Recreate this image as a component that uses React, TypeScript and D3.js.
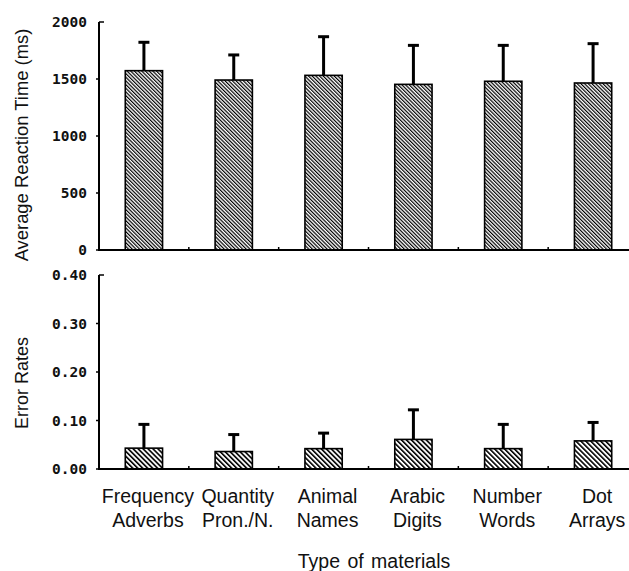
import React from "react";
import * as d3 from "d3";

const categories: string[][] = [
  ["Frequency", "Adverbs"],
  ["Quantity", "Pron./N."],
  ["Animal", "Names"],
  ["Arabic", "Digits"],
  ["Number", "Words"],
  ["Dot", "Arrays"],
];
const rtMean = [1573, 1491, 1532, 1453, 1480, 1465];
const rtSD = [249, 220, 339, 342, 315, 345];
const errMean = [0.043, 0.036, 0.042, 0.061, 0.042, 0.058];
const errSD = [0.049, 0.035, 0.032, 0.061, 0.05, 0.038];
const rtTicks = [0, 500, 1000, 1500, 2000];
const errTicks = [0, 0.1, 0.2, 0.3, 0.4];

const W = 629;
const H = 571;
const AX = 99;
const XEND = 638;
const SANS = "'Liberation Sans', Arial, sans-serif";
const MONO = "'DejaVu Sans Mono', monospace";

export default function App() {
  const idx = categories.map((_, i) => String(i));
  const x = d3
    .scaleBand<string>()
    .domain(idx)
    .range([AX, XEND])
    .paddingInner(0.585)
    .paddingOuter(0.2925);
  const step = x.step();
  const bw = x.bandwidth();

  const yTop = d3.scaleLinear().domain([0, 2000]).range([250, 22]);
  const yBot = d3.scaleLinear().domain([0, 0.4]).range([469, 275]);

  const panel = (
    y: d3.ScaleLinear<number, number>,
    means: number[],
    sds: number[],
    ticks: number[],
    fmt: (v: number) => string,
    pat: string,
    key: string
  ) => {
    const y0 = y(0);
    const yTopPx = y(ticks[ticks.length - 1]);
    return (
      <g key={key}>
        {means.map((m, i) => {
          const x0 = x(String(i))!;
          const cx = x0 + bw / 2;
          const top = y(m);
          const et = y(m + sds[i]);
          return (
            <g key={i}>
              <line x1={cx} x2={cx} y1={top} y2={et} stroke="#000" strokeWidth={3} />
              <line x1={cx - 5.5} x2={cx + 5.5} y1={et} y2={et} stroke="#000" strokeWidth={3} />
              <rect x={x0} y={top} width={bw} height={y0 - top} fill={`url(#${pat})`} stroke="#000" strokeWidth={1.6} />
            </g>
          );
        })}
        <line x1={AX} x2={AX} y1={yTopPx} y2={y0} stroke="#000" strokeWidth={2} />
        <line x1={AX - 1} x2={W} y1={y0} y2={y0} stroke="#000" strokeWidth={2} />
        {ticks.map((t) => (
          <g key={t}>
            <line
              x1={t === ticks[ticks.length - 1] ? AX : AX - 3}
              x2={t === ticks[ticks.length - 1] ? AX + 5 : AX}
              y1={y(t)}
              y2={y(t)}
              stroke="#000"
              strokeWidth={1.5}
            />
            <text
              x={87}
              y={y(t)}
              dy="0.36em"
              textAnchor="end"
              fontFamily={MONO}
              fontWeight="bold"
              fontSize={14.5}
              fill="#111"
            >
              {fmt(t)}
            </text>
          </g>
        ))}
        {idx.slice(1).map((d) => {
          const bx = x(d)! - (step - bw) / 2;
          return <line key={d} x1={bx} x2={bx} y1={y0} y2={y0 - 3} stroke="#000" strokeWidth={1.5} />;
        })}
      </g>
    );
  };

  return (
    <svg width={W} height={H} style={{ position: "absolute", left: 0, top: 0, background: "#fff" }}>
      <defs>
        <pattern id="hatchTop" patternUnits="userSpaceOnUse" width={2.6} height={2.6} patternTransform="rotate(-45)">
          <rect width={2.6} height={2.6} fill="#fff" />
          <line x1={0} y1={0} x2={0} y2={2.6} stroke="#000" strokeWidth={2.4} />
        </pattern>
        <pattern id="hatchBot" patternUnits="userSpaceOnUse" width={3.5} height={3.5} patternTransform="rotate(-45)">
          <rect width={3.5} height={3.5} fill="#fff" />
          <line x1={0} y1={0} x2={0} y2={3.5} stroke="#000" strokeWidth={3.2} />
        </pattern>
      </defs>
      <rect width={W} height={H} fill="#fff" />
      {panel(yTop, rtMean, rtSD, rtTicks, (v) => d3.format("d")(v), "hatchTop", "top")}
      {panel(yBot, errMean, errSD, errTicks, (v) => d3.format(".2f")(v), "hatchBot", "bot")}

      <text
        transform={`translate(28,145) rotate(-90)`}
        textAnchor="middle"
        fontFamily={SANS}
        fontSize={18.4}
        fill="#111"
      >
        Average Reaction Time (ms)
      </text>
      <text
        transform={`translate(28,383) rotate(-90)`}
        textAnchor="middle"
        fontFamily={SANS}
        fontSize={18}
        fill="#111"
      >
        Error Rates
      </text>

      {categories.map((lines, i) => {
        const cx = x(String(i))! + bw / 2 + 4;
        return (
          <text key={i} textAnchor="middle" fontFamily={SANS} fontSize={19.5} fill="#111">
            {lines.map((l, j) => (
              <tspan key={j} x={cx} y={503 + j * 24}>
                {l}
              </tspan>
            ))}
          </text>
        );
      })}
      <text x={374} y={568} textAnchor="middle" fontFamily={SANS} fontSize={19.5} wordSpacing={2} fill="#111">
        Type of materials
      </text>
    </svg>
  );
}
